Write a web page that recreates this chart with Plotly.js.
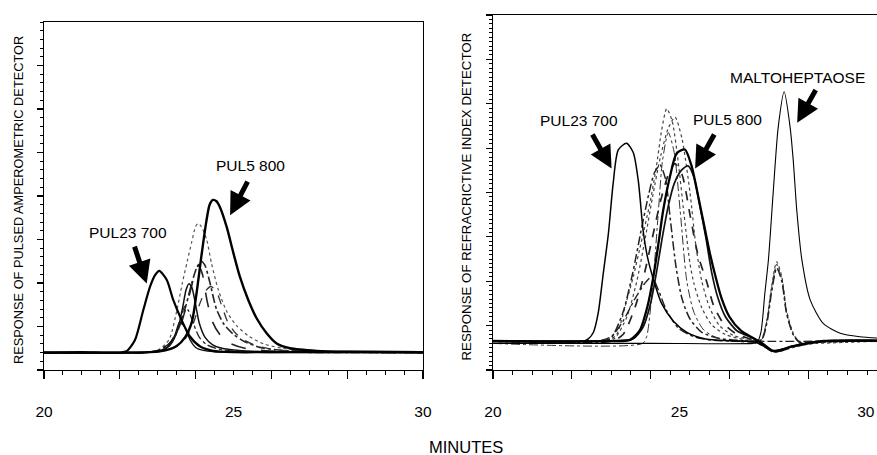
<!DOCTYPE html>
<html><head><meta charset="utf-8">
<script src="https://cdn.plot.ly/plotly-3.0.1.min.js"></script>
<style>html,body{margin:0;padding:0;background:#fff;overflow:hidden}#chart{width:877px;height:455px}</style>
</head><body><div id="chart"></div>
<script>
// ---------- Left panel: pulsed amperometric detector (minutes, response) ----------
const padPul23T = [20, 21, 22.0, 22.18, 22.4, 22.62, 22.8, 22.93, 23.04, 23.24, 23.41, 23.63, 23.85, 24.12, 24.46, 25.0, 26, 28, 30];
const padPul23V = [0.4, 0.41, 0.4, 0.43, 0.69, 1.38, 1.92, 2.18, 2.28, 2.07, 1.61, 1.15, 0.77, 0.54, 0.44, 0.41, 0.41, 0.42, 0.41];
const padPul5T = [20, 22, 22.8, 23.2, 23.5, 23.72, 23.9, 24.03, 24.15, 24.28, 24.37, 24.46, 24.55, 24.64, 24.82, 25.0, 25.17, 25.39, 25.61, 25.88, 26.14, 26.49, 27.2, 28, 30];
const padPul5V = [0.4, 0.4, 0.41, 0.45, 0.55, 0.75, 1.1, 1.8, 2.6, 3.4, 3.8, 3.91, 3.88, 3.75, 3.29, 2.68, 2.14, 1.61, 1.19, 0.84, 0.61, 0.5, 0.44, 0.42, 0.41];
const padAT = [20, 22.6, 23.0, 23.3, 23.5, 23.65, 23.78, 23.9, 24.0, 24.07, 24.15, 24.29, 24.42, 24.6, 24.82, 25.08, 25.4, 25.8, 26.3, 27, 28, 30];
const padAV = [0.4, 0.4, 0.45, 0.7, 1.35, 2.0, 2.5, 2.95, 3.3, 3.37, 3.3, 3.0, 2.45, 1.84, 1.35, 1.02, 0.78, 0.6, 0.5, 0.44, 0.41, 0.4];
const padBT = [20, 22.6, 23.0, 23.3, 23.55, 23.75, 23.9, 24.03, 24.15, 24.25, 24.38, 24.55, 24.75, 25.0, 25.3, 25.7, 26.2, 27, 28, 30];
const padBV = [0.4, 0.4, 0.45, 0.6, 0.95, 1.5, 2.0, 2.35, 2.5, 2.4, 2.0, 1.4, 1.05, 0.82, 0.65, 0.52, 0.46, 0.42, 0.41, 0.4];
const padCT = [20, 22.6, 23.0, 23.3, 23.55, 23.75, 23.9, 24.0, 24.08, 24.18, 24.3, 24.45, 24.65, 24.9, 25.3, 25.8, 26.5, 28, 30];
const padCV = [0.4, 0.4, 0.45, 0.6, 0.9, 1.45, 1.95, 2.3, 2.4, 2.2, 1.6, 1.1, 0.8, 0.62, 0.5, 0.45, 0.42, 0.41, 0.4];
const padDT = [20, 22.6, 23.0, 23.3, 23.5, 23.65, 23.75, 23.82, 23.9, 24.0, 24.1, 24.25, 24.45, 24.7, 25.0, 25.5, 26.5, 28, 30];
const padDV = [0.4, 0.4, 0.43, 0.55, 0.85, 1.4, 1.85, 1.98, 1.9, 1.5, 1.07, 0.75, 0.58, 0.5, 0.46, 0.43, 0.41, 0.4, 0.4];
const padET = [20, 22.8, 23.2, 23.5, 23.75, 23.95, 24.1, 24.25, 24.4, 24.55, 24.7, 24.85, 25.05, 25.3, 25.6, 26.0, 26.6, 28, 30];
const padEV = [0.4, 0.4, 0.45, 0.55, 0.75, 1.1, 1.5, 1.8, 1.92, 1.8, 1.45, 1.1, 0.85, 0.68, 0.56, 0.48, 0.43, 0.41, 0.4];
const padFT = [20, 22.6, 23.0, 23.3, 23.5, 23.62, 23.72, 23.82, 23.95, 24.1, 24.3, 24.6, 25.0, 26, 28, 30];
const padFV = [0.4, 0.4, 0.43, 0.55, 0.85, 1.25, 1.47, 1.35, 1.05, 0.75, 0.58, 0.48, 0.44, 0.41, 0.4, 0.4];
const padGT = [20, 22.6, 23.0, 23.25, 23.45, 23.58, 23.7, 23.85, 24.0, 24.2, 24.5, 25, 26, 30];
const padGV = [0.4, 0.4, 0.43, 0.52, 0.8, 1.1, 1.0, 0.7, 0.52, 0.45, 0.42, 0.41, 0.4, 0.4];

// ---------- Right panel: refractive index detector ----------
const riPul23T = [20, 22.3, 22.42, 22.55, 22.67, 22.8, 22.93, 23.05, 23.18, 23.39, 23.56, 23.69, 23.81, 23.92, 24.07, 24.28, 24.58, 24.92, 25.4, 26.0, 26.6, 26.85, 27.1, 27.3, 27.6, 28.0, 28.4, 29.75];
const riPul23V = [0.65, 0.65, 0.7, 0.85, 1.28, 2.18, 3.08, 4.2, 4.96, 5.11, 4.9, 4.25, 3.15, 2.55, 2.05, 1.5, 1.1, 0.85, 0.7, 0.66, 0.64, 0.55, 0.42, 0.44, 0.53, 0.6, 0.65, 0.66];
const riPul5T = [20, 23.0, 23.48, 23.73, 23.92, 24.07, 24.2, 24.32, 24.49, 24.66, 24.87, 25.04, 25.2, 25.35, 25.5, 25.65, 25.8, 26.0, 26.3, 26.6, 26.85, 27.1, 27.3, 27.6, 28.0, 28.4, 29.75];
const riPul5V = [0.65, 0.65, 0.68, 0.9, 1.43, 2.1, 2.85, 3.6, 4.35, 4.88, 4.97, 4.6, 3.95, 3.3, 2.65, 2.1, 1.62, 1.2, 0.88, 0.72, 0.58, 0.43, 0.45, 0.53, 0.6, 0.65, 0.66];
const riGT = [20, 23.1, 23.55, 23.8, 24.0, 24.15, 24.3, 24.45, 24.6, 24.78, 24.95, 25.1, 25.25, 25.4, 25.55, 25.7, 25.9, 26.2, 26.6, 26.85, 27.1, 27.3, 27.6, 28.0, 28.4, 29.75];
const riGV = [0.66, 0.66, 0.7, 0.95, 1.5, 2.2, 3.0, 3.7, 4.2, 4.5, 4.6, 4.35, 3.7, 3.0, 2.2, 1.65, 1.2, 0.88, 0.72, 0.6, 0.44, 0.46, 0.54, 0.61, 0.66, 0.67];
const riAT = [20, 22.8, 23.0, 23.14, 23.39, 23.56, 23.73, 23.98, 24.15, 24.28, 24.41, 24.55, 24.7, 24.85, 25.0, 25.1, 25.3, 25.55, 25.9, 26.4, 26.8, 26.95, 27.07, 27.2, 27.33, 27.45, 27.62, 27.8, 28.2, 29.75];
const riAV = [0.64, 0.64, 0.7, 0.8, 1.55, 2.1, 2.75, 3.75, 4.6, 5.4, 5.89, 5.6, 4.7, 3.5, 2.4, 1.95, 1.4, 1.02, 0.8, 0.68, 0.66, 1.13, 1.88, 2.44, 2.1, 1.35, 0.83, 0.6, 0.6, 0.65];
const riBT = [20, 22.9, 23.1, 23.4, 23.65, 23.85, 24.05, 24.25, 24.45, 24.62, 24.8, 25.0, 25.15, 25.3, 25.5, 25.75, 26.1, 26.6, 26.8, 26.95, 27.07, 27.2, 27.33, 27.45, 27.62, 27.8, 28.2, 29.75];
const riBV = [0.65, 0.65, 0.72, 1.2, 2.0, 2.9, 3.9, 4.8, 5.45, 5.7, 5.2, 4.0, 2.8, 2.0, 1.4, 1.0, 0.78, 0.68, 0.68, 1.1, 1.82, 2.38, 2.05, 1.3, 0.8, 0.6, 0.62, 0.66];
const riCT = [20, 22.8, 23.0, 23.3, 23.55, 23.75, 23.95, 24.1, 24.24, 24.38, 24.5, 24.65, 24.8, 25.0, 25.3, 25.7, 26.2, 26.8, 26.95, 27.07, 27.2, 27.33, 27.45, 27.62, 27.8, 28.2, 29.75];
const riCV = [0.66, 0.66, 0.72, 1.3, 2.2, 3.1, 3.95, 4.45, 4.62, 4.3, 3.4, 2.3, 1.6, 1.15, 0.85, 0.72, 0.67, 0.66, 1.05, 1.75, 2.3, 2.0, 1.28, 0.8, 0.62, 0.63, 0.66];
const riDT = [20, 23.0, 23.3, 23.6, 23.85, 24.05, 24.25, 24.45, 24.62, 24.8, 25.0, 25.2, 25.42, 25.6, 25.85, 26.2, 26.6, 26.85, 27.1, 27.3, 27.6, 28.0, 28.4, 29.75];
const riDV = [0.65, 0.65, 0.8, 1.4, 2.2, 3.0, 3.8, 4.4, 4.65, 4.4, 3.5, 2.6, 2.0, 1.45, 1.05, 0.8, 0.68, 0.56, 0.41, 0.43, 0.52, 0.6, 0.65, 0.66];
const riET = [20, 23.8, 23.9, 24.0, 24.1, 24.2, 24.3, 24.45, 24.6, 24.75, 24.92, 25.1, 25.35, 25.7, 26.2, 26.6, 26.85, 27.1, 27.3, 27.6, 28.0, 28.4, 29.75];
const riEV = [0.6, 0.6, 0.75, 1.4, 2.4, 3.6, 4.7, 5.35, 4.9, 3.6, 2.0, 1.3, 0.9, 0.72, 0.64, 0.62, 0.54, 0.4, 0.42, 0.5, 0.58, 0.63, 0.64];
const riFT = [20, 22.7, 23.0, 23.3, 23.6, 23.85, 24.03, 24.2, 24.4, 24.7, 25.1, 25.6, 26.2, 29.75];
const riFV = [0.66, 0.66, 0.75, 1.1, 1.6, 1.95, 2.1, 1.8, 1.35, 0.95, 0.75, 0.67, 0.65, 0.65];
const riMaltoT = [20, 24.0, 26.6, 26.7, 26.8, 26.9, 26.99, 27.11, 27.24, 27.39, 27.54, 27.62, 27.71, 27.84, 28.05, 28.38, 28.81, 29.31, 29.75];
const riMaltoV = [0.6, 0.6, 0.6, 0.62, 0.85, 1.73, 2.48, 3.98, 5.48, 6.27, 5.48, 4.73, 3.6, 2.48, 1.58, 1.05, 0.83, 0.75, 0.72];

// axis tick labels
const minuteLabelVals = [20, 25, 30];
const minuteLabelText = ['20', '25', '30'];
const majorMinuteTicks = [20, 22, 24, 26, 28, 30];

const labels = {
  leftY: 'RESPONSE OF PULSED AMPEROMETRIC DETECTOR',
  rightY: 'RESPONSE OF REFRACRICTIVE INDEX DETECTOR',
  x: 'MINUTES',
  pul23: 'PUL23 700', pul5: 'PUL5 800', malto: 'MALTOHEPTAOSE'
};

function tr(t, v, xa, ya, width, dash, color) {
  return {x: t, y: v, xaxis: xa, yaxis: ya, type: 'scatter', mode: 'lines',
    line: {color: color || '#000', width: width, dash: dash || 'solid', shape: 'spline', smoothing: 0.7},
    hoverinfo: 'skip', showlegend: false};
}

const data = [
  tr(padAT, padAV, 'x', 'y', 1.2, 'dot', '#555'),
  tr(padBT, padBV, 'x', 'y', 1.6, 'dashdot', '#222'),
  tr(padCT, padCV, 'x', 'y', 1.6, 'longdash', '#222'),
  tr(padDT, padDV, 'x', 'y', 1.5, 'solid', '#111'),
  tr(padET, padEV, 'x', 'y', 1.3, 'dash', '#333'),
  tr(padFT, padFV, 'x', 'y', 1.3, 'dashdot', '#222'),
  tr(padGT, padGV, 'x', 'y', 1.3, 'solid', '#111'),
  tr(padPul23T, padPul23V, 'x', 'y', 2.2, 'solid', '#000'),
  tr(padPul5T, padPul5V, 'x', 'y', 2.4, 'solid', '#000'),

  tr(riAT, riAV, 'x2', 'y2', 1.2, 'dot', '#444'),
  tr(riBT, riBV, 'x2', 'y2', 1.2, 'dot', '#444'),
  tr(riCT, riCV, 'x2', 'y2', 1.5, 'dashdot', '#222'),
  tr(riDT, riDV, 'x2', 'y2', 1.7, 'dash', '#222'),
  tr(riET, riEV, 'x2', 'y2', 1.0, 'dashdot', '#333'),
  tr(riFT, riFV, 'x2', 'y2', 1.4, 'dashdot', '#222'),
  tr(riGT, riGV, 'x2', 'y2', 1.7, 'solid', '#111'),
  tr(riPul23T, riPul23V, 'x2', 'y2', 1.5, 'solid', '#000'),
  tr(riPul5T, riPul5V, 'x2', 'y2', 2.3, 'solid', '#000'),
  tr(riMaltoT, riMaltoV, 'x2', 'y2', 1.1, 'solid', '#000'),
  // invisible anchors so the label-only overlay axes are drawn
  {x: [minuteLabelVals[0]], y: [0], xaxis: 'x3', yaxis: 'y', mode: 'markers', marker: {opacity: 0}, hoverinfo: 'skip', showlegend: false},
  {x: [minuteLabelVals[0]], y: [0], xaxis: 'x4', yaxis: 'y2', mode: 'markers', marker: {opacity: 0}, hoverinfo: 'skip', showlegend: false}
];

const font = 'Liberation Sans, Arial, Helvetica, sans-serif';
const tickAxis = (domain, range, anchor) => ({
  domain: domain, range: range, anchor: anchor, automargin: false,
  tickmode: 'array', tickvals: majorMinuteTicks, ticks: 'outside', ticklen: 8, tickwidth: 1.2, tickcolor: '#000',
  showticklabels: false, showline: true, linecolor: '#000', linewidth: 1.3, mirror: true,
  showgrid: false, zeroline: false, fixedrange: true,
  minor: {tick0: 20, dtick: 0.5, ticks: 'outside', ticklen: 4, tickwidth: 1, tickcolor: '#000', showgrid: false}
});
const labelAxis = (over, range, anchor) => ({
  overlaying: over, anchor: anchor, range: range, automargin: false,
  tickmode: 'array', tickvals: minuteLabelVals, ticktext: minuteLabelText, ticks: '',
  ticklabelstandoff: 30, ticklabeloverflow: 'allow', tickfont: {family: font, size: 15.5, color: '#000'},
  showline: false, showgrid: false, zeroline: false, fixedrange: true
});

const layout = {
  width: 877, height: 455,
  margin: {l: 0, r: 0, t: 0, b: 0, pad: 0},
  paper_bgcolor: '#fff', plot_bgcolor: '#fff', showlegend: false,
  font: {family: font, color: '#000'},
  xaxis: tickAxis([0.0502, 0.4823], [20, 30], 'y'),
  xaxis2: tickAxis([0.5621, 1], [20, 29.746], 'y2'),
  xaxis3: labelAxis('x', [20, 30], 'y'),
  xaxis4: labelAxis('x2', [20, 30.3], 'y2'),
  yaxis: {domain: [0.1868, 0.9516], range: [0, 8], anchor: 'x', automargin: false,
    tickmode: 'array', tickvals: [0, 1, 2, 3, 4, 5, 6, 7], ticks: 'outside', ticklen: 6, tickwidth: 1.1, tickcolor: '#000',
    showticklabels: false, showline: true, linecolor: '#000', linewidth: 1.3, mirror: true,
    showgrid: false, zeroline: false, fixedrange: true,
    minor: {dtick: 0.2, ticks: 'outside', ticklen: 3, tickwidth: 1, tickcolor: '#000', showgrid: false}},
  yaxis2: {domain: [0.1868, 0.967], range: [0, 8], anchor: 'x2', automargin: false,
    tickmode: 'array', tickvals: [0, 1, 2, 3, 4, 5, 6, 7, 8], ticks: 'outside', ticklen: 6, tickwidth: 1.1, tickcolor: '#000',
    showticklabels: false, showline: true, linecolor: '#000', linewidth: 1.3, mirror: true,
    showgrid: false, zeroline: false, fixedrange: true,
    minor: {dtick: 0.1, ticks: 'outside', ticklen: 3, tickwidth: 1, tickcolor: '#000', showgrid: false}},
  annotations: [
    // axis titles
    {xref: 'paper', yref: 'paper', x: 18 / 877, y: 0.5604, text: labels.leftY, textangle: -90, showarrow: false,
      xanchor: 'center', yanchor: 'middle', font: {family: font, size: 12.8, color: '#000'}},
    {xref: 'paper', yref: 'paper', x: 467 / 877, y: 0.5681, text: labels.rightY, textangle: -90, showarrow: false,
      xanchor: 'center', yanchor: 'middle', font: {family: font, size: 13.3, color: '#000'}},
    {xref: 'paper', yref: 'paper', x: 466 / 877, y: 0.0176, text: labels.x, showarrow: false,
      xanchor: 'center', yanchor: 'middle', font: {family: font, size: 16.5, color: '#000'}},
    // peak labels
    {xref: 'x', yref: 'y', x: 22.22, y: 3.17, text: labels.pul23, showarrow: false, font: {family: font, size: 15.5, color: '#000'}},
    {xref: 'x', yref: 'y', x: 25.46, y: 4.71, text: labels.pul5, showarrow: false, font: {family: font, size: 15.5, color: '#000'}},
    {xref: 'x2', yref: 'y2', x: 22.18, y: 5.63, text: labels.pul23, showarrow: false, font: {family: font, size: 15.5, color: '#000'}},
    {xref: 'x2', yref: 'y2', x: 25.96, y: 5.65, text: labels.pul5, showarrow: false, font: {family: font, size: 15.5, color: '#000'}},
    {xref: 'x2', yref: 'y2', x: 27.72, y: 6.6, text: labels.malto, showarrow: false, font: {family: font, size: 15.5, color: '#000'}},
    // arrows
    {xref: 'x', yref: 'y', x: 22.71, y: 1.99, ax: -12.7, ay: -38.3, text: '', showarrow: true, arrowhead: 2, arrowwidth: 5, arrowsize: 0.9, arrowcolor: '#000', standoff: 0},
    {xref: 'x', yref: 'y', x: 24.91, y: 3.56, ax: 18.3, ay: -35, text: '', showarrow: true, arrowhead: 2, arrowwidth: 5, arrowsize: 0.9, arrowcolor: '#000', standoff: 0},
    {xref: 'x2', yref: 'y2', x: 23.01, y: 4.54, ax: -20, ay: -35.6, text: '', showarrow: true, arrowhead: 2, arrowwidth: 5, arrowsize: 0.9, arrowcolor: '#000', standoff: 0},
    {xref: 'x2', yref: 'y2', x: 25.13, y: 4.54, ax: 20, ay: -35.6, text: '', showarrow: true, arrowhead: 2, arrowwidth: 5, arrowsize: 0.9, arrowcolor: '#000', standoff: 0},
    {xref: 'x2', yref: 'y2', x: 27.72, y: 5.57, ax: 19.4, ay: -34.4, text: '', showarrow: true, arrowhead: 2, arrowwidth: 5, arrowsize: 0.9, arrowcolor: '#000', standoff: 0}
  ]
};

Plotly.newPlot('chart', data, layout, {staticPlot: true, displayModeBar: false});
</script>
</body></html>
